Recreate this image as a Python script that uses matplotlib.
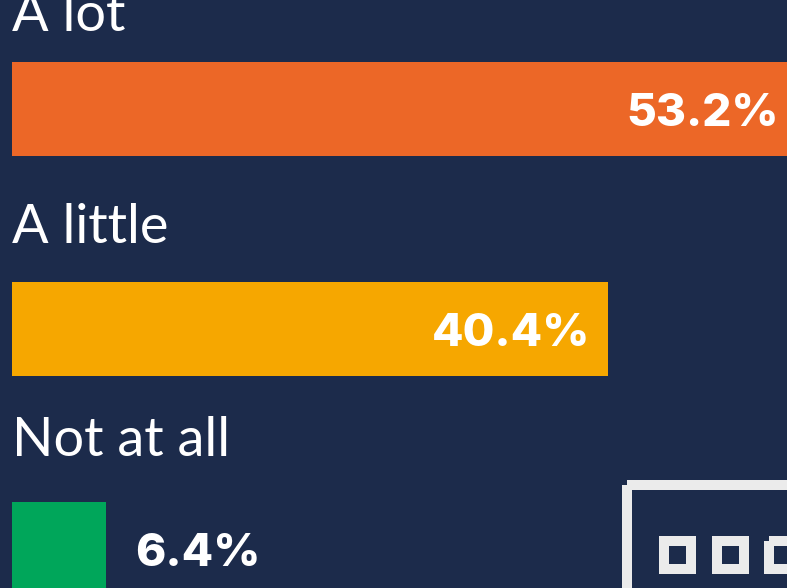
import matplotlib
matplotlib.use('Agg')
import matplotlib.pyplot as plt
from matplotlib.patches import Rectangle

categories = ['A lot', 'A little', 'Not at all']
values = [53.2, 40.4, 6.4]
value_labels = ['53.2%', '40.4%', '6.4%']
bar_colors = ['#ec6727', '#f6a700', '#00a65a']

bg = '#1c2b4b'
W, H = 787, 588
px_per_unit = 14.75
left_pad = 12

fig = plt.figure(figsize=(W / 100, H / 100), dpi=100, facecolor=bg)
ax = fig.add_axes([0, 0, 1, 1], facecolor=bg)
ax.set_xlim(-left_pad / px_per_unit, (W - left_pad) / px_per_unit)
ax.set_ylim(H, 0)
ax.axis('off')

# layout in pixels (top of bar, label baseline)
bar_tops = [62, 282, 502]
label_base = [31, 243, 456]
bar_h = 94

for i, (cat, v, lab, c) in enumerate(zip(categories, values, value_labels, bar_colors)):
    yc = bar_tops[i] + bar_h / 2
    ax.barh(yc, v, height=bar_h, left=0, color=c, linewidth=0)
    ax.annotate(cat, (0, label_base[i]), xytext=(0, 0), textcoords='offset points',
                ha='left', va='baseline', color='white', fontsize=39, family='Lato',
                annotation_clip=False)
    if v > 20:
        ax.annotate(lab, (v, yc + 17), xytext=(-18 * 0.72, 0), textcoords='offset points',
                    ha='right', va='baseline', color='white', fontsize=33,
                    family='Inter', fontweight='heavy', annotation_clip=False)
    else:
        ax.annotate(lab, (v, yc + 17), xytext=(29 * 0.72, 0), textcoords='offset points',
                    ha='left', va='baseline', color='white', fontsize=33,
                    family='Inter', fontweight='heavy', annotation_clip=False)

# logo corner, pixel coordinates
lg = fig.add_axes([0, 0, 1, 1], facecolor='none')
lg.set_xlim(0, W)
lg.set_ylim(H, 0)
lg.axis('off')
lw = 10 * 0.72
lg.add_patch(Rectangle((627, 485), 300, 300, fill=False, edgecolor='#ebebeb', linewidth=lw))
for x0 in [659, 711.5, 764]:
    lg.add_patch(Rectangle((x0 + 5, 541), 27, 28, fill=False, edgecolor='#ebebeb', linewidth=lw))

fig.savefig('out.png', dpi=100, facecolor=bg)
